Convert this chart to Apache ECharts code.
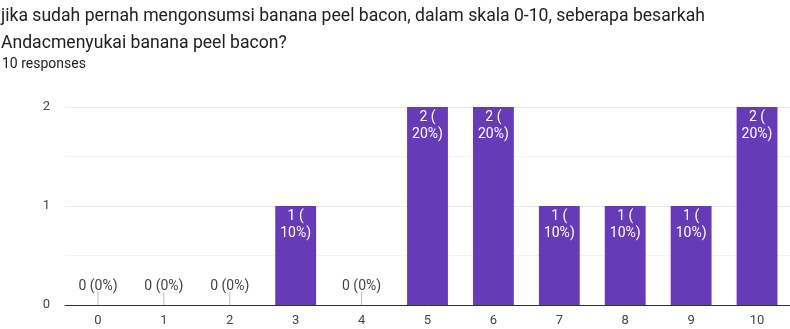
<!DOCTYPE html>
<html>
<head>
<meta charset="utf-8">
<script src="https://cdn.jsdelivr.net/npm/echarts@6/dist/echarts.min.js"></script>
<style>
  html, body { margin: 0; padding: 0; background: #fff; }
  #main { width: 790px; height: 329px; }
</style>
</head>
<body>
<div id="main"></div>
<script>
// data
const scores = ['0', '1', '2', '3', '4', '5', '6', '7', '8', '9', '10'];
const counts = [0, 0, 0, 1, 0, 2, 2, 1, 1, 1, 2];
const total = 10;
const yTicks = [0, 1, 2];

const titleLine1 = 'jika sudah pernah mengonsumsi banana peel bacon, dalam skala 0-10, seberapa besarkah';
const titleLine2 = 'Andacmenyukai banana peel bacon?';
const subText = total + ' responses';

const font = 'Roboto, "Noto Sans", Arial, sans-serif';

function pct(v) {
  return Math.round(v / total * 100) + '%';
}

const chart = echarts.init(document.getElementById('main'));
const option = {
  animation: false,
  textStyle: { fontFamily: font },
  graphic: [
    { type: 'text', left: 1, top: 8, style: { text: titleLine1, font: '17.6px ' + font, fill: '#202124' } },
    { type: 'text', left: 1, top: 35, style: { text: titleLine2, font: '17.6px ' + font, fill: '#202124' } },
    { type: 'text', left: 2, top: 57, style: { text: subText, font: '14px ' + font, fill: '#202124' } }
  ],
  grid: { left: 65, right: 0, top: 107, bottom: 24 },
  xAxis: {
    type: 'category',
    data: scores,
    axisLine: { lineStyle: { color: '#333', width: 1 } },
    axisTick: { show: false },
    axisLabel: { color: '#444', fontSize: 13, margin: 9 }
  },
  yAxis: {
    type: 'value',
    min: yTicks[0],
    max: yTicks[yTicks.length - 1],
    interval: 1,
    axisLine: { show: false },
    axisTick: { show: false },
    axisLabel: { color: '#444', fontSize: 13, margin: 15 },
    splitLine: { lineStyle: { color: '#ebebeb' } },
    minorTick: { show: false, splitNumber: 2 },
    minorSplitLine: { show: true, lineStyle: { color: '#f3f3f3' } }
  },
  series: [
    {
      type: 'bar',
      data: counts,
      barWidth: '62%',
      itemStyle: { color: '#673ab7' },
      label: {
        show: true,
        position: 'insideTop',
        distance: 2,
        color: '#fff',
        fontSize: 14,
        lineHeight: 17,
        formatter: p => p.value > 0 ? p.value + ' (\n' + pct(p.value) + ')' : ''
      }
    },
    {
      // little stems + labels for the empty scores
      type: 'custom',
      data: counts.map((v, i) => [i, v]),
      renderItem: function (params, api) {
        if (api.value(1) !== 0) return;
        const pt = api.coord([api.value(0), 0]);
        return {
          type: 'group',
          children: [
            { type: 'line', shape: { x1: pt[0], y1: pt[1], x2: pt[0], y2: pt[1] - 13 }, style: { stroke: '#bdbdbd', lineWidth: 1 } },
            { type: 'text', style: { text: api.value(1) + ' (' + pct(api.value(1)) + ')', x: pt[0], y: pt[1] - 19, align: 'center', verticalAlign: 'middle', font: '14px ' + font, fill: '#444' } }
          ]
        };
      }
    }
  ]
};
chart.setOption(option);
</script>
</body>
</html>
